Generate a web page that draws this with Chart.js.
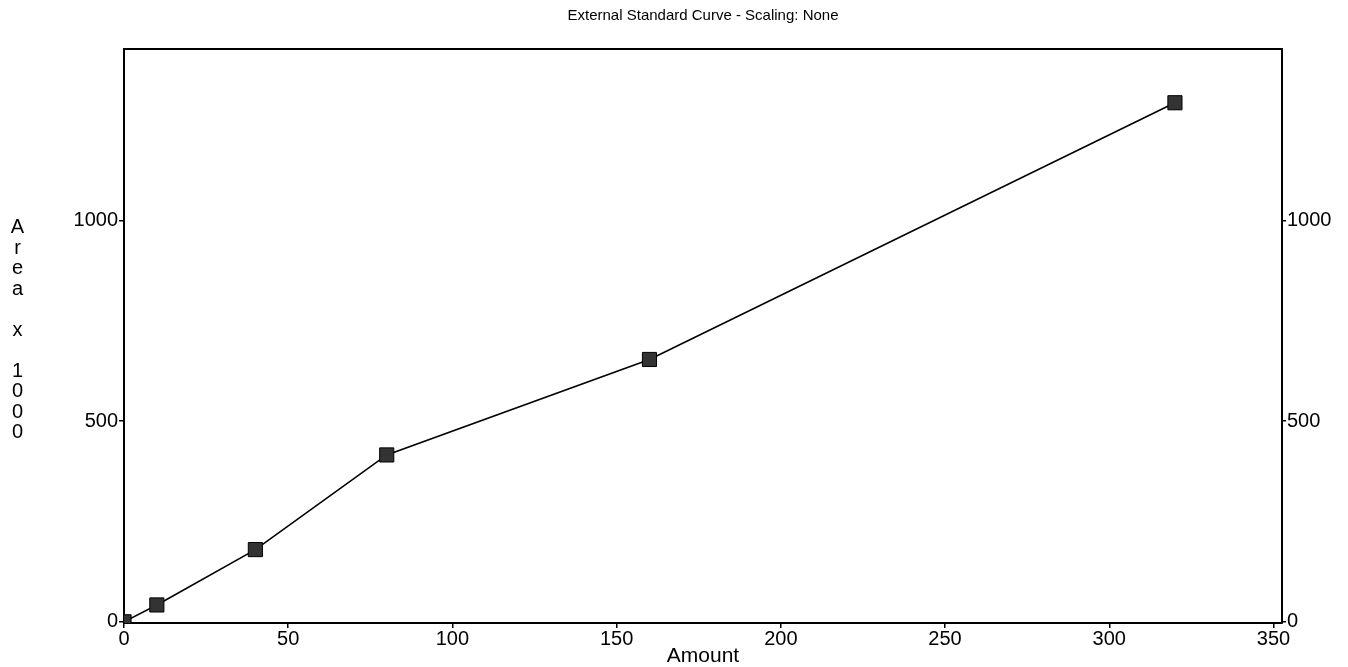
<!DOCTYPE html>
<html><head><meta charset="utf-8">
<script src="https://cdn.jsdelivr.net/npm/chart.js@4.4.0/dist/chart.umd.min.js"></script>
<style>html,body{margin:0;padding:0;background:#fff;}#wrap{width:1348px;height:667px;}</style>
</head><body><div id="wrap"><canvas id="c" width="1348" height="667"></canvas></div>
<script>
const chartTitle = 'External Standard Curve - Scaling: None';
const xTitle = 'Amount';
const yTitle = 'Area x 1000';
const amounts = [0, 10, 40, 80, 160, 320];
const areas = [0, 42, 180, 416, 654, 1294];
const xTicks = [0, 50, 100, 150, 200, 250, 300, 350];
const yTicks = [0, 500, 1000];

const FONT = "'Liberation Sans', Arial, sans-serif";
const axisFont = {family: FONT, size: 20, lineHeight: 1};
const X_MIN = 0, X_MAX = 352.6, Y_MIN = -3, Y_MAX = 1428;

const yTitlePlugin = {
  id: 'yTitleStack',
  afterDraw(chart) {
    const ctx = chart.ctx;
    const ca = chart.chartArea;
    const chars = yTitle.split('');
    const step = 20.5;
    const mid = (ca.top + ca.bottom) / 2 - 6;
    const start = mid - (chars.length - 1) * step / 2;
    ctx.save();
    ctx.fillStyle = '#000';
    ctx.font = '20px ' + FONT;
    ctx.textAlign = 'center';
    ctx.textBaseline = 'middle';
    chars.forEach((ch, i) => { if (ch !== ' ') ctx.fillText(ch, 17.5, start + i * step); });
    ctx.restore();
  }
};

const tickScale = (ticks) => (s) => { s.ticks = ticks.map(v => ({value: v})); };
const plain = (v) => String(v);

new Chart(document.getElementById('c'), {
  type: 'line',
  data: {
    datasets: [{
      data: amounts.map((x, i) => ({x: x, y: areas[i]})),
      xAxisID: 'x', yAxisID: 'y',
      borderColor: '#000', borderWidth: 1.6, tension: 0,
      pointStyle: 'rect', pointRadius: 10, pointHoverRadius: 10,
      pointBackgroundColor: '#333', pointBorderColor: '#000', pointBorderWidth: 1,
      clip: 0, fill: false
    }]
  },
  options: {
    responsive: false, animation: false, devicePixelRatio: 1,
    layout: {padding: 0},
    plugins: {legend: {display: false}, tooltip: {enabled: false}, title: {display: false}},
    scales: {
      x: {
        type: 'linear', position: 'bottom', min: X_MIN, max: X_MAX,
        afterBuildTicks: tickScale(xTicks),
        afterFit: (s) => { s.height = 44; },
        ticks: {font: axisFont, color: '#000', padding: 1, maxRotation: 0, autoSkip: false, callback: plain},
        grid: {drawOnChartArea: false, drawTicks: true, tickLength: 5, color: '#000', lineWidth: 1.5},
        border: {display: true, color: '#000', width: 2},
        title: {display: true, text: xTitle, font: {family: FONT, size: 21, lineHeight: 1}, color: '#000', padding: {top: 0, bottom: 0}}
      },
      xTop: {
        type: 'linear', axis: 'x', position: 'top', min: X_MIN, max: X_MAX,
        afterFit: (s) => { s.height = 49; },
        ticks: {display: false},
        grid: {display: true, drawOnChartArea: false, drawTicks: false, color: '#000'},
        border: {display: true, color: '#000', width: 2},
        title: {display: true, text: chartTitle, font: {family: FONT, size: 15, lineHeight: 1.2}, color: '#000', padding: {top: 7, bottom: 0}}
      },
      y: {
        type: 'linear', position: 'left', min: Y_MIN, max: Y_MAX,
        afterBuildTicks: tickScale(yTicks),
        afterFit: (s) => { s.width = 124; },
        ticks: {font: axisFont, color: '#000', padding: 1, callback: plain},
        grid: {drawOnChartArea: false, drawTicks: true, tickLength: 5, color: '#000', lineWidth: 1.5},
        border: {display: true, color: '#000', width: 2}
      },
      y2: {
        type: 'linear', axis: 'y', position: 'right', min: Y_MIN, max: Y_MAX,
        afterBuildTicks: tickScale(yTicks),
        afterFit: (s) => { s.width = 66; },
        ticks: {font: axisFont, color: '#000', padding: 1, callback: plain},
        grid: {drawOnChartArea: false, drawTicks: true, tickLength: 4, color: '#000', lineWidth: 1.5},
        border: {display: true, color: '#000', width: 2}
      }
    }
  },
  plugins: [yTitlePlugin]
});
</script>
</body></html>
